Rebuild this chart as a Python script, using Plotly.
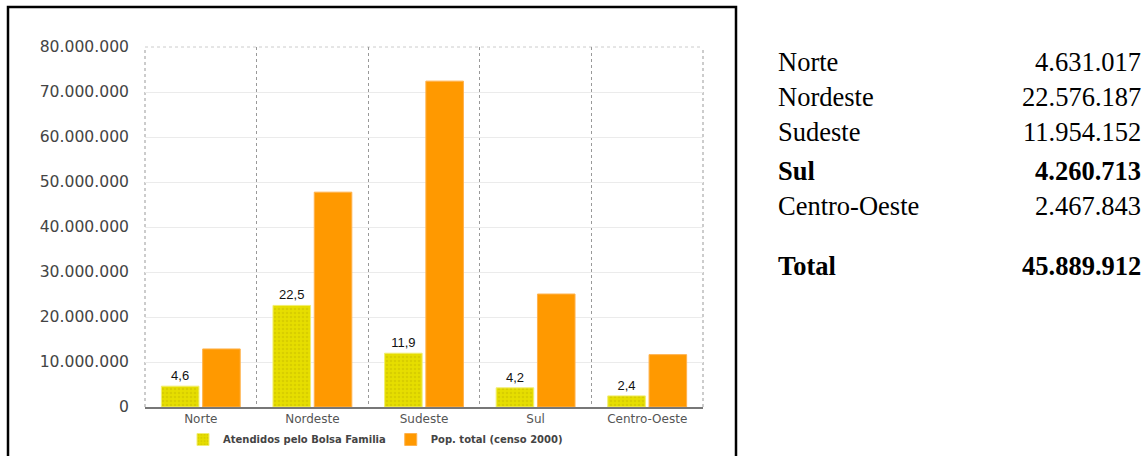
import math
import plotly.graph_objects as go

# Regions of Brazil
regioes = ["Norte", "Nordeste", "Sudeste", "Sul", "Centro-Oeste"]
# People served by Bolsa Família, per region
atendidos = [4631017, 22576187, 11954152, 4260713, 2467843]
# Total population (census 2000)
populacao = [12900704, 47741711, 72412411, 25107616, 11636728]
# Y-axis ticks
y_ticks = [0, 10000000, 20000000, 30000000, 40000000, 50000000, 60000000, 70000000, 80000000]
# Regions shown in bold in the side table
destaque = ["Sul"]

W, H = 1146, 456
L, R, T, B = 145, 443, 47, 49
PW, PH = W - L - R, H - T - B


def px_x(px):
    return (px - L) / PW


def px_y(py):
    return (H - B - py) / PH


def fmt_int(v):
    return f"{v:,}".replace(",", ".")


# labels show millions truncated to one decimal
milhoes = [math.floor(v / 1e5) / 10 for v in atendidos]

fig = go.Figure()
fig.add_trace(go.Bar(
    x=regioes, y=atendidos,
    name="Atendidos pelo Bolsa Familia",
    customdata=milhoes,
    texttemplate="%{customdata:.1f}",
    textposition="outside",
    textfont=dict(family="Liberation Sans", size=13, color="#111111"),
    cliponaxis=False,
    marker=dict(color="#E6DE00", line=dict(color="#F2EE70", width=1),
                pattern=dict(shape=".", fgcolor="#C9BE00", size=4, solidity=0.35)),
))
fig.add_trace(go.Bar(
    x=regioes, y=populacao,
    name="Pop. total (censo 2000)",
    marker=dict(color="#FF9900", line=dict(color="#FFB24D", width=1)),
))

# Side table with the Bolsa Família totals
rows_y = [62, 97, 132, 171, 206]
tfont = dict(family="Liberation Serif", size=26.5, color="black")
annotations = []
for reg, val, py in zip(regioes, atendidos, rows_y):
    bold = reg in destaque
    lab = f"<b>{reg}</b>" if bold else reg
    num = f"<b>{fmt_int(val)}</b>" if bold else fmt_int(val)
    annotations.append(dict(x=px_x(776), y=px_y(py), xref="paper", yref="paper",
                            text=lab, showarrow=False, xanchor="left", yanchor="middle", font=tfont))
    annotations.append(dict(x=px_x(1143), y=px_y(py), xref="paper", yref="paper",
                            text=num, showarrow=False, xanchor="right", yanchor="middle", font=tfont))
total = sum(atendidos)
annotations.append(dict(x=px_x(776), y=px_y(266), xref="paper", yref="paper",
                        text="<b>Total</b>", showarrow=False, xanchor="left", yanchor="middle", font=tfont))
annotations.append(dict(x=px_x(1143), y=px_y(266), xref="paper", yref="paper",
                        text=f"<b>{fmt_int(total)}</b>", showarrow=False, xanchor="right",
                        yanchor="middle", font=tfont))

shapes = [
    # frame around the chart
    dict(type="path", xref="paper", yref="paper",
         path=f"M {px_x(8)},{px_y(470)} L {px_x(8)},{px_y(7)} L {px_x(736)},{px_y(7)} L {px_x(736)},{px_y(470)}",
         line=dict(color="black", width=2.5)),
    # dotted outer edges of the plot area
    dict(type="line", xref="paper", yref="paper", x0=0, x1=0, y0=0, y1=1,
         line=dict(color="#999999", width=1, dash="dot"), layer="below"),
    dict(type="line", xref="paper", yref="paper", x0=1, x1=1, y0=0, y1=1,
         line=dict(color="#999999", width=1, dash="dot"), layer="below"),
    dict(type="line", xref="paper", yref="paper", x0=0, x1=1, y0=1, y1=1,
         line=dict(color="#CCCCCC", width=1, dash="dot"), layer="below"),
]

fig.update_layout(
    width=W, height=H,
    margin=dict(l=L, r=R, t=T, b=B, autoexpand=False),
    paper_bgcolor="white", plot_bgcolor="white",
    separators=",.",
    barmode="group", bargap=0.26, bargroupgap=0.09,
    showlegend=True,
    legend=dict(orientation="h", x=px_x(183), y=px_y(425), xanchor="left", yanchor="top",
                font=dict(family="DejaVu Sans", size=10, color="#444444", weight="bold"),
                itemwidth=30, tracegroupgap=0, bgcolor="rgba(0,0,0,0)"),
    annotations=annotations,
    shapes=shapes,
    xaxis=dict(
        showgrid=True, tickson="boundaries", gridcolor="#999999", griddash="dot", gridwidth=1,
        showline=True, linecolor="#777777", linewidth=2,
        ticks="", ticklabelstandoff=0,
        tickfont=dict(family="DejaVu Sans", size=12, color="#555555"),
        fixedrange=True,
    ),
    yaxis=dict(
        range=[0, 80000000], tickvals=y_ticks, tickformat=",d",
        showgrid=True, gridcolor="#EBEBEB", gridwidth=1,
        zeroline=False, showline=False, ticks="",
        ticklabelstandoff=15,
        tickfont=dict(family="DejaVu Sans", size=15.6, color="#444444"),
        fixedrange=True,
    ),
)

fig.write_html("out.html")
